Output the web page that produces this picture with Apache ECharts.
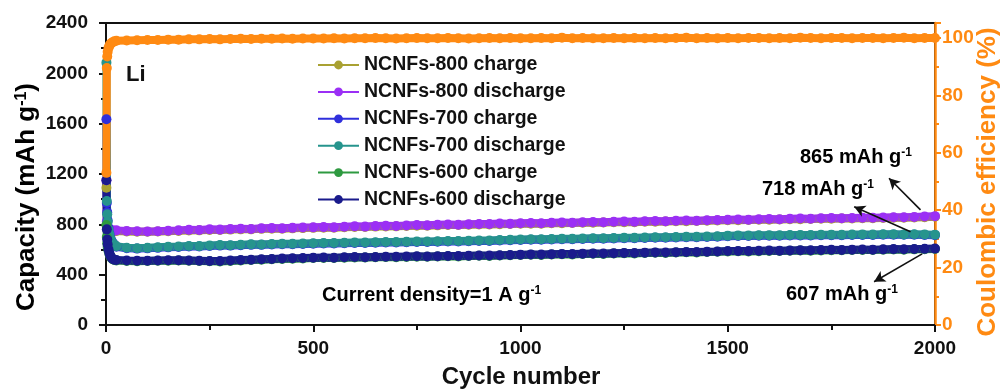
<!DOCTYPE html>
<html>
<head>
<meta charset="utf-8">
<style>
  html, body { margin: 0; padding: 0; background: #fff; }
  #chart { width: 1004px; height: 389px; }
</style>
<script src="https://cdn.jsdelivr.net/npm/echarts@6/dist/echarts.min.js"></script>
</head>
<body>
<div id="chart"></div>
<script>
// Cycle numbers at which capacity / efficiency are plotted
const cycles = [1, 2, 3, 4, 6, 8, 10, 13, 16, 20,
  25, 50, 75, 100, 125, 150, 175, 200, 225, 250,
  275, 300, 325, 350, 375, 400, 425, 450, 475, 500,
  525, 550, 575, 600, 625, 650, 675, 700, 725, 750,
  775, 800, 825, 850, 875, 900, 925, 950, 975, 1000,
  1025, 1050, 1075, 1100, 1125, 1150, 1175, 1200, 1225, 1250,
  1275, 1300, 1325, 1350, 1375, 1400, 1425, 1450, 1475, 1500,
  1525, 1550, 1575, 1600, 1625, 1650, 1675, 1700, 1725, 1750,
  1775, 1800, 1825, 1850, 1875, 1900, 1925, 1950, 1975, 2000];

// Capacity in mAh g^-1
const ncnf800Charge = [1091, 800, 778, 768, 758, 753, 749, 747, 745, 744,
  747, 744, 741, 741, 743, 745, 748, 751, 752, 755,
  755, 758, 760, 760, 764, 765, 765, 768, 770, 772,
  773, 773, 777, 779, 779, 782, 783, 784, 787, 789,
  789, 792, 794, 794, 797, 798, 799, 801, 802, 804,
  805, 805, 808, 809, 810, 812, 813, 814, 816, 817,
  817, 820, 821, 822, 824, 825, 826, 828, 830, 832,
  833, 834, 836, 837, 838, 840, 841, 842, 844, 845,
  846, 847, 849, 849, 851, 852, 853, 855, 857, 860];

const ncnf800Discharge = [1150, 822, 792, 778, 766, 760, 756, 753, 751, 749,
  752, 748, 745, 744, 746, 749, 752, 756, 755, 760,
  758, 762, 765, 763, 768, 770, 768, 772, 775, 776,
  778, 776, 781, 784, 782, 786, 788, 787, 791, 794,
  792, 796, 799, 797, 801, 803, 802, 806, 805, 808,
  810, 808, 812, 814, 813, 816, 818, 817, 820, 822,
  820, 824, 826, 825, 828, 830, 829, 832, 835, 836,
  838, 837, 840, 842, 841, 844, 846, 845, 848, 850,
  849, 851, 853, 852, 855, 857, 856, 859, 862, 865];

const ncnf700Charge = [1635, 970, 895, 830, 770, 730, 700, 674, 654, 640,
  622, 610, 607, 609, 613, 617, 620, 624, 624, 628,
  631, 631, 634, 637, 637, 640, 642, 642, 644, 646,
  648, 648, 650, 652, 652, 654, 656, 656, 658, 660,
  660, 662, 664, 664, 666, 668, 668, 671, 673, 676,
  678, 678, 680, 682, 682, 684, 686, 686, 688, 690,
  690, 692, 694, 694, 696, 698, 698, 700, 702, 706,
  708, 708, 709, 710, 710, 711, 712, 712, 713, 714,
  714, 715, 716, 716, 717, 718, 717, 717, 716, 714];

const ncnf700Discharge = [2085, 985, 880, 820, 760, 722, 692, 668, 650, 637,
  626, 614, 610, 613, 617, 621, 624, 628, 627, 632,
  635, 634, 638, 641, 640, 644, 646, 645, 648, 650,
  652, 651, 654, 656, 655, 658, 660, 659, 662, 664,
  663, 666, 668, 667, 670, 672, 671, 675, 677, 680,
  682, 681, 684, 686, 685, 688, 690, 689, 692, 694,
  693, 696, 698, 697, 700, 702, 701, 704, 706, 710,
  712, 711, 713, 714, 713, 715, 716, 715, 717, 718,
  717, 719, 720, 719, 721, 722, 720, 721, 720, 718];

const ncnf600Charge = [795, 700, 650, 620, 590, 566, 548, 533, 523, 516,
  513, 509, 507, 508, 510, 511, 512, 510, 508, 506,
  505, 509, 513, 516, 519, 522, 525, 527, 529, 532,
  533, 532, 535, 537, 536, 538, 540, 539, 541, 543,
  542, 544, 546, 545, 548, 550, 549, 552, 554, 556,
  558, 557, 560, 562, 561, 564, 566, 565, 568, 570,
  569, 572, 574, 573, 576, 578, 577, 580, 582, 585,
  586, 585, 587, 589, 588, 590, 592, 591, 593, 595,
  594, 596, 597, 596, 598, 600, 599, 601, 602, 604];

const ncnf600Discharge = [1150, 760, 680, 640, 600, 572, 552, 536, 526, 519,
  516, 512, 510, 511, 513, 514, 515, 513, 511, 509,
  508, 512, 516, 519, 522, 525, 528, 530, 532, 535,
  536, 535, 538, 540, 539, 541, 543, 542, 544, 546,
  545, 547, 549, 548, 551, 553, 552, 555, 557, 559,
  561, 560, 563, 565, 564, 567, 569, 568, 571, 573,
  572, 575, 577, 576, 579, 581, 580, 583, 585, 588,
  589, 588, 590, 592, 591, 593, 595, 594, 596, 598,
  597, 599, 600, 599, 601, 603, 602, 604, 605, 607];

// Coulombic efficiency in %
const coulombicEff = [53, 89.5, 93.5, 95.2, 96.5, 97.2, 97.8, 98.2, 98.5, 98.8,
  99.0, 99.1, 99.2, 99.3, 99.3, 99.4, 99.4, 99.5, 99.5, 99.6,
  99.5, 99.6, 99.7, 99.6, 99.7, 99.7, 99.8, 99.7, 99.8, 99.8,
  99.8, 99.9, 99.8, 99.9, 99.9, 100.0, 99.9, 99.8, 99.9, 100.0,
  99.9, 99.9, 100.0, 99.9, 99.8, 99.9, 100.0, 99.9, 100.0, 99.9,
  99.9, 100.0, 99.9, 100.1, 99.9, 100.0, 99.9, 99.9, 100.0, 99.9,
  100.0, 99.9, 100.0, 99.9, 100.0, 100.1, 99.9, 100.0, 99.9, 100.0,
  99.9, 100.0, 100.0, 99.9, 100.0, 99.9, 100.1, 100.0, 99.9, 100.0,
  100.0, 99.9, 100.0, 100.0, 99.9, 100.0, 100.1, 99.9, 100.0, 100.0];

// Axis ticks
const cycleTicks = { min: 0, max: 2000, step: 500 };
const capacityTicks = { min: 0, max: 2400, step: 400 };
const ceTicks = { min: 0, max: 105.2, step: 20 };

// Final-cycle callouts: arrow from [cycle, capacity] on the band to [cycle, capacity] near the text
const callouts = [
  { text: '865 mAh g', from: [1965, 915], to: [1889, 1166] },
  { text: '718 mAh g', from: [1941, 741], to: [1805, 940] },
  { text: '607 mAh g', from: [1969, 565], to: [1853, 344] }
];

const FONT = '"Liberation Sans", Arial, Helvetica, sans-serif';
const ORANGE = '#ff8a12';

const capSeries = [
  { name: 'NCNFs-800 charge', data: ncnf800Charge, color: '#a9a132' },
  { name: 'NCNFs-800 discharge', data: ncnf800Discharge, color: '#9b2ff5' },
  { name: 'NCNFs-700 charge', data: ncnf700Charge, color: '#2f2fdc' },
  { name: 'NCNFs-700 discharge', data: ncnf700Discharge, color: '#26948d' },
  { name: 'NCNFs-600 charge', data: ncnf600Charge, color: '#2e9a40' },
  { name: 'NCNFs-600 discharge', data: ncnf600Discharge, color: '#1a1b8c' }
];

const pair = arr => arr.map((v, i) => [cycles[i], v]);

const series = capSeries.map(s => ({
  name: s.name,
  type: 'line',
  yAxisIndex: 0,
  data: pair(s.data),
  symbol: 'circle',
  symbolSize: 10,
  color: s.color,
  lineStyle: { width: 8, color: s.color },
  itemStyle: { color: s.color },
  emphasis: { disabled: true }
}));

series.push({
  name: 'Coulombic efficiency',
  type: 'line',
  yAxisIndex: 1,
  data: pair(coulombicEff),
  symbol: 'circle',
  symbolSize: 10,
  color: ORANGE,
  lineStyle: { width: 8, color: ORANGE },
  itemStyle: { color: ORANGE },
  emphasis: { disabled: true },
  z: 3
});

// Arrows pointing from the last cycles to their value labels
series.push({
  name: 'callouts',
  type: 'line',
  yAxisIndex: 0,
  data: [],
  silent: true,
  markLine: {
    silent: true,
    symbol: ['none', 'arrow'],
    symbolSize: [9, 11],
    label: { show: false },
    lineStyle: { color: '#111', width: 1.6, type: 'solid' },
    emphasis: { disabled: true },
    data: callouts.map(c => [{ coord: c.from }, { coord: c.to }])
  },
  z: 5
});

const supRich = (fs) => ({
  m: { fontSize: fs, fontWeight: 'bold', fontFamily: FONT, color: '#111' },
  s: { fontSize: Math.round(fs * 0.6), fontWeight: 'bold', fontFamily: FONT, color: '#111', verticalAlign: 'top' }
});

const labelPos = [[800, 157], [762, 189], [786, 294]];

const graphics = [
  { type: 'text', left: 126, top: 64, style: { text: 'Li', font: 'bold 22px ' + FONT, fill: '#111' } },
  {
    type: 'text', x: 322, y: 295,
    style: { text: '{m|Current density=1 A g}{s|-1}', rich: supRich(20), verticalAlign: 'middle' }
  },
  {
    type: 'text', x: 27, y: 197, rotation: Math.PI / 2,
    style: { text: '{m|Capacity (mAh g}{s|-1}{m|)}', rich: supRich(26), align: 'center', verticalAlign: 'middle' }
  },
  {
    type: 'text', x: 521, y: 377,
    style: { text: 'Cycle number', font: 'bold 24px ' + FONT, fill: '#111', align: 'center', verticalAlign: 'middle' }
  },
  {
    type: 'text', x: 988, y: 182, rotation: Math.PI / 2,
    style: { text: 'Coulombic efficiency (%)', font: 'bold 26px ' + FONT, fill: ORANGE, align: 'center', verticalAlign: 'middle' }
  }
].concat(callouts.map((c, i) => ({
  type: 'text', x: labelPos[i][0], y: labelPos[i][1],
  style: { text: '{m|' + c.text + '}{s|-1}', rich: supRich(20), verticalAlign: 'middle' }
})));

const axisLabelStyle = { fontFamily: FONT, fontWeight: 'bold', fontSize: 19, color: '#111', formatter: v => String(v) };

const option = {
  animation: false,
  backgroundColor: '#fff',
  grid: { left: 106, right: 69, top: 23, bottom: 64, show: true, borderColor: '#111', borderWidth: 2, backgroundColor: 'transparent' },
  legend: {
    data: capSeries.map(s => s.name),
    orient: 'vertical',
    left: 312,
    top: 50,
    itemWidth: 41,
    itemHeight: 11,
    itemGap: 6.9,
    lineStyle: { width: 2 },
    textStyle: { fontFamily: FONT, fontWeight: 'bold', fontSize: 19.5, color: '#111', lineHeight: 18 },
    selectedMode: false
  },
  xAxis: {
    type: 'value',
    min: cycleTicks.min,
    max: cycleTicks.max,
    interval: cycleTicks.step,
    axisLine: { lineStyle: { color: '#111', width: 2 } },
    axisTick: { inside: false, length: 7, lineStyle: { color: '#111', width: 2 } },
    minorTick: { show: true, splitNumber: 2, length: 5, lineStyle: { color: '#111', width: 2 } },
    splitLine: { show: false },
    axisLabel: Object.assign({}, axisLabelStyle, { margin: 14 })
  },
  yAxis: [
    {
      type: 'value',
      min: capacityTicks.min,
      max: capacityTicks.max,
      interval: capacityTicks.step,
      axisLine: { show: true, lineStyle: { color: '#111', width: 2 } },
      axisTick: { show: true, inside: false, length: 7, lineStyle: { color: '#111', width: 2 } },
      minorTick: { show: true, splitNumber: 2, length: 5, lineStyle: { color: '#111', width: 2 } },
      splitLine: { show: false },
      axisLabel: Object.assign({}, axisLabelStyle, { margin: 18 })
    },
    {
      type: 'value',
      position: 'right',
      min: ceTicks.min,
      max: ceTicks.max,
      interval: ceTicks.step,
      axisLine: { show: true, lineStyle: { color: ORANGE, width: 2.5 } },
      axisTick: { show: true, inside: false, length: 6, lineStyle: { color: ORANGE, width: 2 } },
      minorTick: { show: true, splitNumber: 2, length: 4, lineStyle: { color: ORANGE, width: 2 } },
      splitLine: { show: false },
      axisLabel: Object.assign({}, axisLabelStyle, { color: ORANGE, margin: 7, showMaxLabel: false })
    }
  ],
  graphic: graphics,
  series: series
};

const chart = echarts.init(document.getElementById('chart'), null, { renderer: 'canvas' });
chart.setOption(option);
</script>
</body>
</html>
